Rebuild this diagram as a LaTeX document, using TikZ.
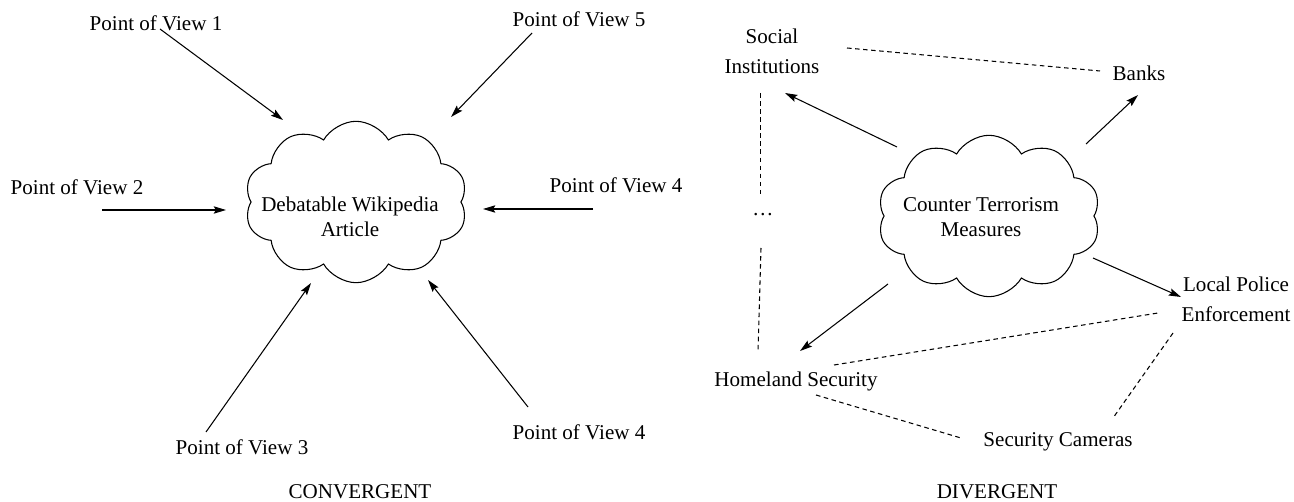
\documentclass[tikz,border=0pt]{standalone}
\usepackage{fontspec}
\setmainfont{Liberation Serif}
\usetikzlibrary{shapes.symbols, arrows.meta}

\begin{document}
\begin{tikzpicture}[x=0.57pt, y=-0.57pt,
    lbl/.style={inner sep=0pt, anchor=base, font=\fontsize{12}{14}\selectfont},
    blk/.style={inner sep=0pt, align=center, font=\fontsize{12}{17.1}\selectfont},
    puff/.style={draw, cloud, cloud puffs=10, cloud puff arc=120, line width=0.6pt,
                 minimum width=127pt, minimum height=92pt, inner sep=0pt},
    arr/.style={-{Stealth[length=7pt, width=4.2pt, inset=1.2pt]}, line width=0.6pt},
    dsh/.style={dash pattern=on 2.6pt off 2pt, line width=0.6pt}
  ]
  \useasboundingbox (0,0) rectangle (1294,502);

  % convergent
  \node[puff] (wiki) at (356,202) {};
  \node[blk, font=\fontsize{12}{14.25}\selectfont] (wikitext) at (350,217)
    {Debatable Wikipedia\\Article};

  \node[lbl] (pov1) at (156,31) {Point of View 1};
  \node[lbl] (pov5) at (579,27) {Point of View 5};
  \node[lbl] (pov2) at (77,195) {Point of View 2};
  \node[lbl] (pov4a) at (616,193) {Point of View 4};
  \node[lbl] (pov3) at (242,455) {Point of View 3};
  \node[lbl] (pov4b) at (579,440) {Point of View 4};
  \node[lbl] (conv) at (360,498) {CONVERGENT};

  \draw[arr] ([shift={(4,-2)}]pov1.base) -- ([shift={(-73,-82)}]wiki.center);
  \draw[arr] ([shift={(-47,6)}]pov5.base) -- ([shift={(95,-85)}]wiki.center);
  \draw[arr] ([shift={(25,15)}]pov2.base) -- ([shift={(-130,8)}]wiki.center);
  \draw[arr] ([shift={(-23,16)}]pov4a.base) -- ([shift={(127,7)}]wiki.center);
  \draw[arr] ([shift={(-36,-23)}]pov3.base) -- ([shift={(-45,81)}]wiki.center);
  \draw[arr] ([shift={(-51,-33)}]pov4b.base) -- ([shift={(72,78)}]wiki.center);

  % divergent
  \node[puff] (ctm) at (989,216) {};
  \node[blk, font=\fontsize{12}{14.25}\selectfont] (ctmtext) at (981,217)
    {Counter Terrorism\\Measures};

  \node[blk] (social) at (772,51) {Social\\Institutions};
  \node[lbl] (banks) at (1139,81) {Banks};
  \node[lbl] (dots) at (763,216) {\ldots};
  \node[blk] (police) at (1236,299) {Local Police\\Enforcement};
  \node[lbl] (homeland) at (796,387) {Homeland Security};
  \node[lbl] (cameras) at (1058,447) {Security Cameras};
  \node[lbl] (div) at (997,498) {DIVERGENT};

  \draw[arr] ([shift={(-92,-69)}]ctm.center) -- ([shift={(13,42)}]social.center);
  \draw[arr] ([shift={(97,-72)}]ctm.center) -- ([shift={(-1,14)}]banks.base);
  \draw[arr] ([shift={(104,42)}]ctm.center) -- ([shift={(-55,-2)}]police.center);
  \draw[arr] ([shift={(-101,68)}]ctm.center) -- ([shift={(4,-36)}]homeland.base);

  \draw[dsh] ([shift={(75,-3)}]social.center) -- ([shift={(-39,-10)}]banks.base);
  \draw[dsh] ([shift={(-11.5,42)}]social.center) -- ([shift={(-2.5,-19)}]dots.base);
  \draw[dsh] ([shift={(-2,32)}]dots.base) -- ([shift={(-38,-36)}]homeland.base);
  \draw[dsh] ([shift={(38,-22)}]homeland.base) -- ([shift={(-78,14)}]police.center);
  \draw[dsh] ([shift={(20,8)}]homeland.base) -- ([shift={(-97,-9)}]cameras.base);
  \draw[dsh] ([shift={(-63,34)}]police.center) -- ([shift={(55,-29)}]cameras.base);
\end{tikzpicture}
\end{document}
